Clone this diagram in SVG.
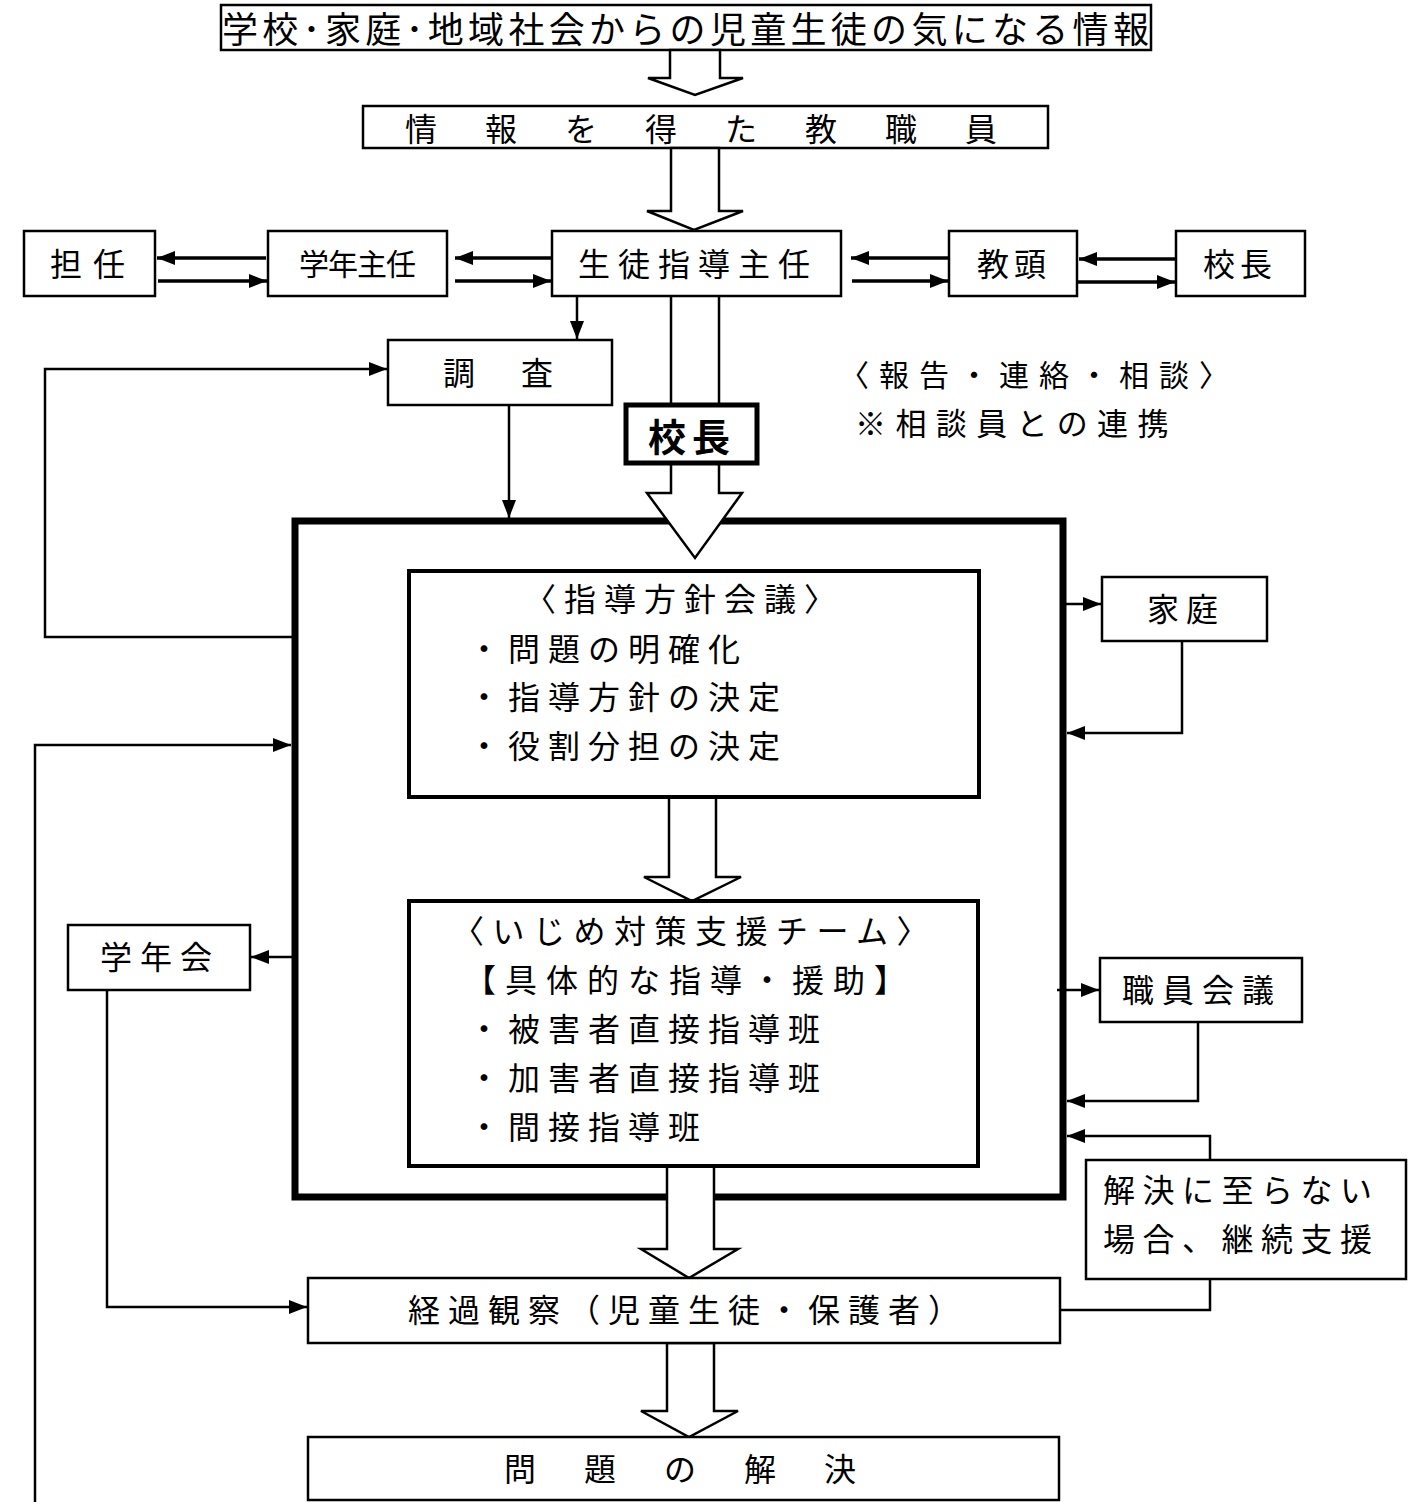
<svg xmlns="http://www.w3.org/2000/svg" width="1414" height="1502" viewBox="0 0 1414 1502">
<style>
text{font-family:"Noto Sans CJK JP","Noto Sans CJK SC",sans-serif;font-size:32px;fill:#000;dominant-baseline:central}
.box{fill:#fff;stroke:#000;stroke-width:2.5}
.inner{fill:#fff;stroke:#000;stroke-width:4}
.big{fill:none;stroke:#000;stroke-width:7}
.bold{fill:#fff;stroke:#000;stroke-width:5}
.blk{fill:#fff;stroke:#000;stroke-width:2.5;stroke-linejoin:miter}
.ln{fill:none;stroke:#000;stroke-width:2.5}
.ln3{fill:none;stroke:#000;stroke-width:3.5}
</style>
<defs>
<marker id="ah" markerUnits="userSpaceOnUse" markerWidth="20" markerHeight="16" refX="18" refY="7" orient="auto">
<path d="M0,0 L18,7 L0,14 z" fill="#000"/>
</marker>
</defs>
<rect width="1414" height="1502" fill="#fff"/>

<g id="big-frame"><rect class="big" x="295" y="521" width="768" height="676"/></g>

<g id="n-info"><rect class="box" x="221" y="5" width="930" height="45"/>
<text x="222" y="27" style="font-size:36px;letter-spacing:4.3px">学校･家庭･地域社会からの児童生徒の気になる情報</text></g>

<g id="n-staff"><rect class="box" x="363" y="106" width="685" height="42"/>
<text x="405" y="127" style="letter-spacing:48px">情報を得た教職員</text></g>

<g id="n-tannin"><rect class="box" x="24" y="231" width="131" height="65"/>
<text x="50" y="262" style="letter-spacing:11px">担任</text></g>
<g id="n-gakunen"><rect class="box" x="268" y="231" width="179" height="65"/>
<text x="299" y="262" style="font-size:30px;letter-spacing:-1px">学年主任</text></g>
<g id="n-seito"><rect class="box" x="552" y="231" width="289" height="65"/>
<text x="578" y="262" style="letter-spacing:8px">生徒指導主任</text></g>
<g id="n-kyoto"><rect class="box" x="949" y="231" width="128" height="65"/>
<text x="977" y="262" style="letter-spacing:5px">教頭</text></g>
<g id="n-kocho1"><rect class="box" x="1176" y="231" width="129" height="65"/>
<text x="1203" y="262" style="letter-spacing:5px">校長</text></g>

<g id="n-chosa"><rect class="box" x="388" y="340" width="224" height="65"/>
<text x="443" y="371" style="letter-spacing:46px">調査</text></g>

<g id="n-note">
<text x="839" y="373" style="font-size:30px;letter-spacing:10px">〈報告・連絡・相談〉</text>
<text x="855" y="421" style="font-size:31px;letter-spacing:9.4px">※相談員との連携</text>
</g>

<g id="connectors">
<line class="ln3" x1="266" y1="258" x2="157" y2="258" marker-end="url(#ah)"/>
<line class="ln3" x1="158" y1="281" x2="267" y2="281" marker-end="url(#ah)"/>
<line class="ln3" x1="551" y1="258" x2="455" y2="258" marker-end="url(#ah)"/>
<line class="ln3" x1="455" y1="281" x2="551" y2="281" marker-end="url(#ah)"/>
<line class="ln3" x1="948" y1="258" x2="851" y2="258" marker-end="url(#ah)"/>
<line class="ln3" x1="852" y1="281" x2="948" y2="281" marker-end="url(#ah)"/>
<line class="ln3" x1="1175" y1="259" x2="1079" y2="259" marker-end="url(#ah)"/>
<line class="ln3" x1="1078" y1="282" x2="1175" y2="282" marker-end="url(#ah)"/>
<line class="ln" x1="577" y1="297" x2="577" y2="339" marker-end="url(#ah)"/>
<polyline class="ln" points="293,637 45,637 45,369 387,369" marker-end="url(#ah)"/>
<line class="ln" x1="509" y1="405" x2="509" y2="518" marker-end="url(#ah)"/>
<polyline class="ln" points="35,1502 35,745 291,745" marker-end="url(#ah)"/>
<line class="ln" x1="1066" y1="604" x2="1101" y2="604" marker-end="url(#ah)"/>
<polyline class="ln" points="1182,641 1182,733 1067,733" marker-end="url(#ah)"/>
<line class="ln" x1="1057" y1="990" x2="1099" y2="990" marker-end="url(#ah)"/>
<polyline class="ln" points="1198,1022 1198,1101 1067,1101" marker-end="url(#ah)"/>
<polyline class="ln" points="1060,1310 1210,1310 1210,1279"/>
<polyline class="ln" points="1210,1160 1210,1136 1067,1136" marker-end="url(#ah)"/>
<line class="ln" x1="292" y1="957" x2="251" y2="957" marker-end="url(#ah)"/>
<polyline class="ln" points="107,990 107,1307 307,1307" marker-end="url(#ah)"/>
<line class="ln" x1="671" y1="296" x2="671" y2="404"/>
<line class="ln" x1="719" y1="296" x2="719" y2="404"/>
<polygon class="blk" points="670,50 670,78 648,78 695,95 743,78 720,78 720,50"/>
<polygon class="blk" points="671,148 671,211 647,211 694,230 743,211 719,211 719,148"/>
<polygon class="blk" points="671,463 671,493 647,493 695,558 742,493 719,493 719,463"/>
<polygon class="blk" points="669,797 669,877 644,877 692,901 741,877 716,877 716,797"/>
<polygon class="blk" points="667,1166 667,1249 641,1249 689,1278 738,1249 714,1249 714,1166"/>
<polygon class="blk" points="667,1343 667,1411 641,1411 689,1437 738,1411 714,1411 714,1343"/>
</g>

<g id="n-kocho2"><rect class="bold" x="626" y="405" width="131" height="58"/>
<text x="648" y="434" style="font-size:38px;font-weight:bold;letter-spacing:6px">校長</text></g>

<g id="n-hoshin"><rect class="inner" x="409" y="571" width="570" height="226"/>
<text x="524" y="597" style="letter-spacing:8px">〈指導方針会議〉</text>
<text x="468" y="647" style="letter-spacing:8px">・問題の明確化</text>
<text x="468" y="695" style="letter-spacing:8px">・指導方針の決定</text>
<text x="468" y="744" style="letter-spacing:8px">・役割分担の決定</text></g>

<g id="n-team"><rect class="inner" x="409" y="901" width="569" height="265"/>
<text x="452" y="929" style="letter-spacing:8.5px">〈いじめ対策支援チーム〉</text>
<text x="464" y="978" style="letter-spacing:9px">【具体的な指導・援助】</text>
<text x="468" y="1027" style="letter-spacing:8px">・被害者直接指導班</text>
<text x="468" y="1076" style="letter-spacing:8px">・加害者直接指導班</text>
<text x="468" y="1125" style="letter-spacing:8px">・間接指導班</text></g>

<g id="n-katei"><rect class="box" x="1102" y="577" width="165" height="64"/>
<text x="1147" y="607" style="letter-spacing:7px">家庭</text></g>
<g id="n-shokuin"><rect class="box" x="1100" y="958" width="202" height="64"/>
<text x="1122" y="988" style="letter-spacing:8px">職員会議</text></g>
<g id="n-gakunenkai"><rect class="box" x="68" y="925" width="182" height="65"/>
<text x="100" y="955" style="letter-spacing:8px">学年会</text></g>
<g id="n-keizoku"><rect class="box" x="1086" y="1160" width="320" height="119"/>
<text x="1103" y="1188" style="letter-spacing:7.5px">解決に至らない</text>
<text x="1103" y="1237" style="letter-spacing:7.5px">場合、継続支援</text></g>

<g id="n-keika"><rect class="box" x="308" y="1278" width="752" height="65"/>
<text x="408" y="1308" style="letter-spacing:8px">経過観察（児童生徒・保護者）</text></g>
<g id="n-kaiketsu"><rect class="box" x="308" y="1437" width="751" height="63"/>
<text x="504" y="1467" style="letter-spacing:48px">問題の解決</text></g>
</svg>
